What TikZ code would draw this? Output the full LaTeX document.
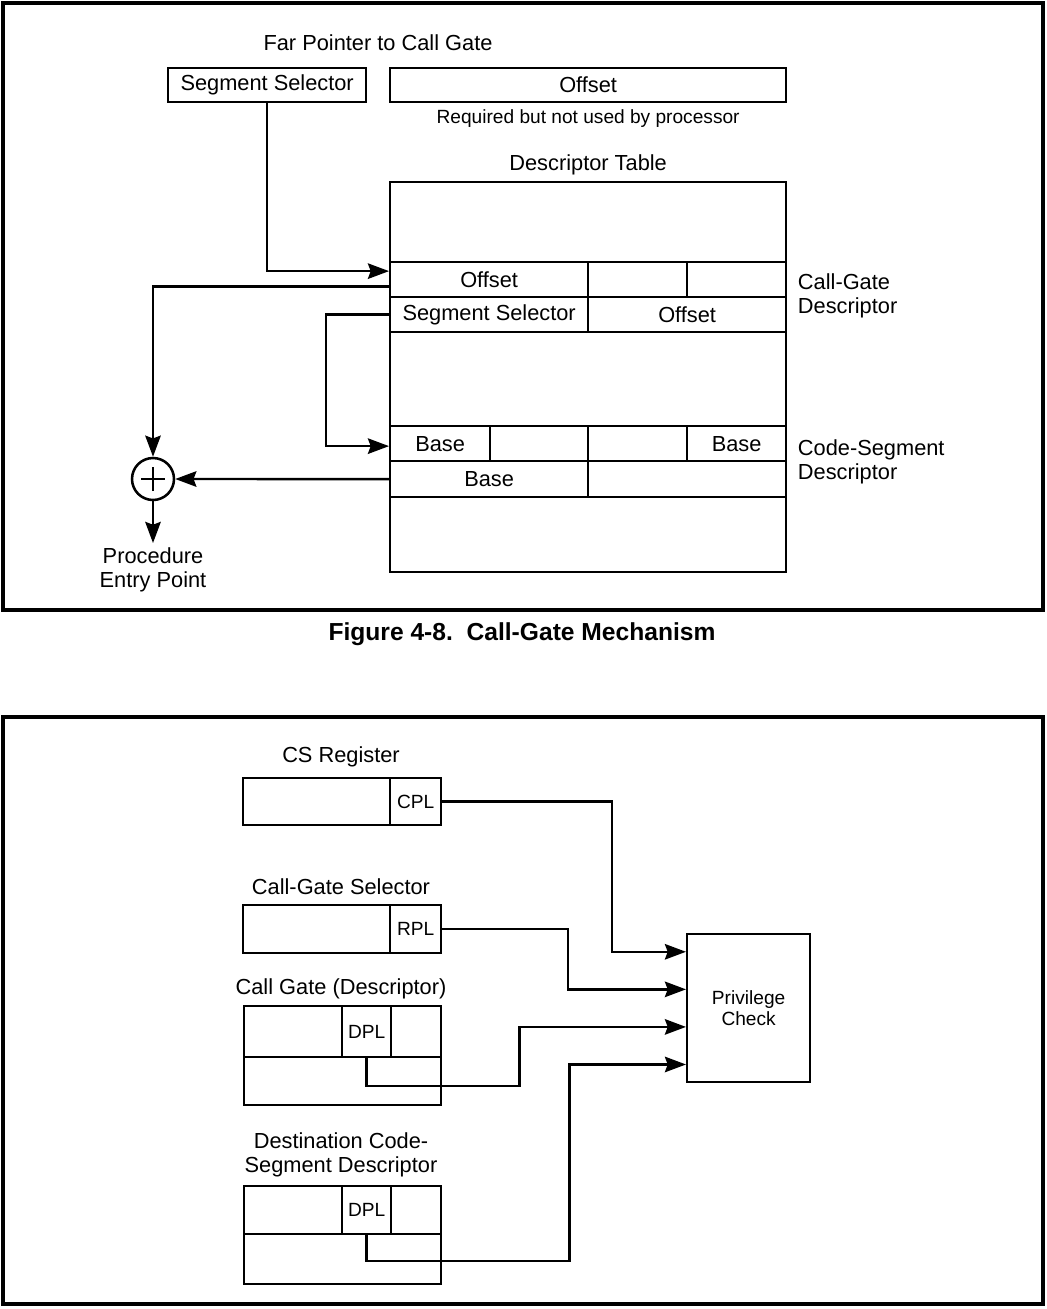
\documentclass[tikz,border=0pt]{standalone}
\usepackage{fontspec}
\setmainfont{Liberation Sans}
\usetikzlibrary{arrows.meta,positioning,calc}
\newcommand{\pxl}{0.025cm}

\begin{document}
\begin{tikzpicture}
			[x=0.025cm,y=-0.025cm,
			font=\fontsize{15.5}{17}\selectfont,
			frame/.style={line width=2.3pt},
			cell/.style 2 args={draw,line width=1.6pt,inner sep=0pt,anchor=north west,minimum width=#1*\pxl,minimum height=#2*\pxl},
			small/.style={font=\fontsize{13.6}{14.5}\selectfont},
			conn/.style={line width=1.7pt,-{Stealth[length=15pt,width=11pt,inset=2pt]}},
			]
			\useasboundingbox (0,0) rectangle (1046,1309);
			% call-gate mechanism
			\draw[frame] (3,3) rectangle (1043,610);
			\node (fartitle) at (378,43) {Far Pointer to Call Gate};
			\node[cell={198}{34}] (fsel) at (167,67) {Segment Selector};
			\node[cell={396}{34}] (foff) at (389,67) {Offset};
			\node[small,below=1pt of foff] (unused) {Required but not used by processor};
			\node[cell={396}{80}] (tbtop) at (389,181) {};
			\node[above=1pt of tbtop] (tbtitle) {Descriptor Table};
			\node[cell={198}{35}] (gdoff) at (389,261) {Offset};
			\node[cell={99}{35}] (gdb) at (587,261) {};
			\node[cell={99}{35}] (gdc) at (686,261) {};
			\node[cell={198}{35}] (gdsel) at (389,296) {Segment Selector};
			\node[cell={198}{35}] (gdoff2) at (587,296) {Offset};
			\node[cell={396}{94}] (tbmid) at (389,331) {};
			\node[cell={100}{35}] (csbase) at (389,425) {Base};
			\node[cell={98}{35}] (csb) at (489,425) {};
			\node[cell={99}{35}] (csc) at (587,425) {};
			\node[cell={99}{35}] (csbase2) at (686,425) {Base};
			\node[cell={198}{36}] (csbase3) at (389,460) {Base};
			\node[cell={198}{36}] (csd) at (587,460) {};
			\node[cell={396}{75}] (tbbot) at (389,496) {};
			\node[align=left,anchor=west] (cglbl) at (793,296) {Call-Gate\\Descriptor};
			\node[align=left,anchor=west] (cslbl) at (793,462) {Code-Segment\\Descriptor};
			\node[circle,draw,line width=1.8pt,minimum size=42*\pxl,inner sep=0pt] (sum) at (153,479) {};
			\draw[line width=1.8pt] ([xshift=-12*\pxl]sum.center) -- ([xshift=12*\pxl]sum.center)
				([yshift=-12*\pxl]sum.center) -- ([yshift=12*\pxl]sum.center);
			\node[align=center,anchor=north] (entry) at (153,543) {Procedure\\Entry Point};
			\draw[conn] (fsel.south) |- ([yshift=8.5*\pxl]gdoff.west);
			\draw[conn] ([yshift=-7*\pxl]gdoff.west) -| (sum.north);
			\draw[conn] (gdsel.west) -- ++(-63,0) |- ([yshift=-2.5*\pxl]csbase.west);
			\draw[conn] (csbase3.west) -- (sum.east);
			\draw[conn] (sum.south) -- (entry.north);
			\node[font=\fontsize{17.5}{20}\selectfont\bfseries] (caption) at (522,634) {Figure 4-8.\ \ Call-Gate Mechanism};
			% privilege check
			\draw[frame] (3,717) rectangle (1043,1304);
			\node (cstitle) at (341,757) {CS Register};
			\node[cell={147}{47}] (csl) at (242,777) {};
			\node[cell={51}{47},small] (cpl) at (389,777) {CPL};
			\node (seltitle) at (341,887) {Call-Gate Selector};
			\node[cell={147}{48}] (sell) at (242,904) {};
			\node[cell={51}{48},small] (rpl) at (389,904) {RPL};
			\node (cgtitle) at (341,989) {Call Gate (Descriptor)};
			\node[cell={98}{51}] (cga) at (243,1005) {};
			\node[cell={49}{51},small] (cgdpl) at (341,1005) {DPL};
			\node[cell={50}{51}] (cgb) at (390,1005) {};
			\node[cell={197}{48}] (cgc) at (243,1056) {};
			\node[align=center] (dstitle) at (341,1155) {Destination Code-\\Segment Descriptor};
			\node[cell={98}{48}] (dsa) at (243,1185) {};
			\node[cell={49}{48},small] (dsdpl) at (341,1185) {DPL};
			\node[cell={50}{48}] (dsb) at (390,1185) {};
			\node[cell={197}{50}] (dsc) at (243,1233) {};
			\node[cell={123}{148},small,align=center] (priv) at (686,933) {Privilege\\Check};
			\coordinate (p1) at ($(priv.north west)!.125!(priv.south west)$);
			\coordinate (p2) at ($(priv.north west)!.375!(priv.south west)$);
			\coordinate (p3) at ($(priv.north west)!.625!(priv.south west)$);
			\coordinate (p4) at ($(priv.north west)!.875!(priv.south west)$);
			\draw[conn] (cpl.east) -- ++(170,0) |- (p1);
			\draw[conn] (rpl.east) -- ++(126,0) |- (p2);
			\draw[conn] (cgdpl.south) -- ++(0,28) -- ++(153,0) |- (p3);
			\draw[conn] (dsdpl.south) -- ++(0,26) -- ++(203,0) |- (p4);
			\end{tikzpicture}
\end{document}
